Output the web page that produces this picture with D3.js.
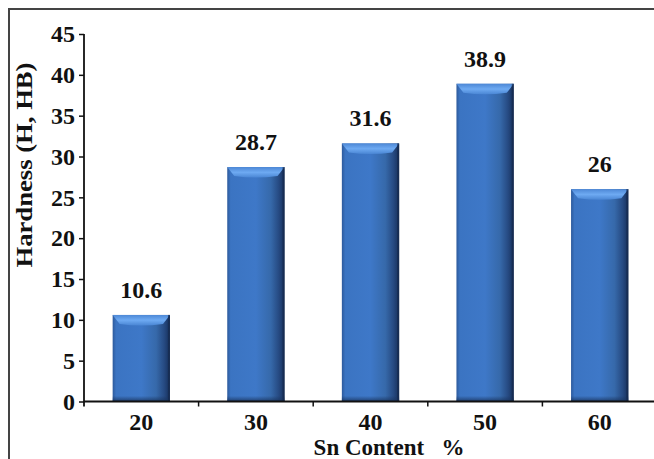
<!DOCTYPE html>
<html>
<head>
<meta charset="utf-8">
<script src="https://cdn.jsdelivr.net/npm/d3@7/dist/d3.min.js"></script>
<style>
  html, body { margin: 0; padding: 0; background: #fff; }
  svg { display: block; }
  svg text { font-family: "Liberation Serif", serif !important; font-weight: bold; fill: #111; }
</style>
</head>
<body>
<svg id="chart" width="654" height="459"></svg>
<script>
const categories = ["20", "30", "40", "50", "60"];
const hardness = [10.6, 28.7, 31.6, 38.9, 26];
const valueLabels = ["10.6", "28.7", "31.6", "38.9", "26"];
const yTicks = [0, 5, 10, 15, 20, 25, 30, 35, 40, 45];
const xTitle = "Sn Content   %";
const yTitle = "Hardness (H, HB)";

(function () {
const svg = d3.select("#chart");
const W = 654, H = 459;
const pLeft = 84, pRight = 657, pTop = 34, pBottom = 401.5;

const x = d3.scaleBand().domain(categories).range([pLeft, pRight]).paddingInner(0.5).paddingOuter(0.25);
const y = d3.scaleLinear().domain([0, 45]).range([pBottom, pTop]);

// frame
svg.append("rect").attr("x", 9).attr("y", 9).attr("width", W + 10).attr("height", H + 10)
  .attr("fill", "#fff").attr("stroke", "#444").attr("stroke-width", 2);

// gradients
const defs = svg.append("defs");
const gH = defs.append("linearGradient").attr("id", "gH").attr("x1", 0).attr("x2", 1).attr("y1", 0).attr("y2", 0);
[[0, "#2d5a9c"], [0.06, "#3b74c2"], [0.5, "#3e78c8"], [0.76, "#3669aa"], [0.9, "#264a82"], [1, "#17305a"]]
  .forEach(([o, c]) => gH.append("stop").attr("offset", o).attr("stop-color", c));
const gB = defs.append("linearGradient").attr("id", "gB").attr("x1", 0).attr("x2", 0).attr("y1", 0).attr("y2", 1);
[[0, "#1a3560", 0], [0.6, "#1a3560", 0], [1, "#1a3560", 0.85]]
  .forEach(([o, c, a]) => gB.append("stop").attr("offset", o).attr("stop-color", c).attr("stop-opacity", a));
const gT = defs.append("linearGradient").attr("id", "gT").attr("x1", 0).attr("x2", 0).attr("y1", 0).attr("y2", 1);
[[0, "#4d88d6"], [0.5, "#6eaaf2"], [1, "#4a86d4"]]
  .forEach(([o, c]) => gT.append("stop").attr("offset", o).attr("stop-color", c));

const bars = svg.append("g").selectAll("g").data(categories).join("g");
bars.append("rect")
  .attr("x", d => x(d)).attr("width", x.bandwidth())
  .attr("y", (d, i) => y(hardness[i])).attr("height", (d, i) => pBottom - y(hardness[i]))
  .attr("fill", "url(#gH)");
bars.append("rect")
  .attr("x", d => x(d)).attr("width", x.bandwidth())
  .attr("y", (d, i) => Math.max(y(hardness[i]), pBottom - 14)).attr("height", (d, i) => Math.min(14, pBottom - y(hardness[i])))
  .attr("fill", "url(#gB)");
bars.append("path")
  .attr("d", (d, i) => {
    const x0 = x(d), x1 = x(d) + x.bandwidth(), t = y(hardness[i]);
    return `M${x0},${t} L${x1},${t} L${x1 - 7},${t + 9} Q${(x0 + x1) / 2},${t + 12} ${x0 + 7},${t + 9} Z`;
  })
  .attr("fill", "url(#gT)");
bars.append("rect")
  .attr("x", d => x(d) + x.bandwidth() - 2).attr("width", 2)
  .attr("y", (d, i) => y(hardness[i])).attr("height", (d, i) => pBottom - y(hardness[i]))
  .attr("fill", "#152a4d").attr("opacity", 0.7);

// value labels
svg.append("g").selectAll("text").data(categories).join("text")
  .attr("x", d => x(d) + x.bandwidth() / 2)
  .attr("y", (d, i) => y(hardness[i]) - 17)
  .attr("text-anchor", "middle").attr("font-size", 24)
  .text((d, i) => valueLabels[i]);

// y axis
const yAxis = svg.append("g").attr("transform", `translate(${pLeft},0)`)
  .call(d3.axisLeft(y).tickValues(yTicks).tickSize(5).tickPadding(4).tickFormat(d3.format("d")));
yAxis.select(".domain").remove();
yAxis.selectAll(".tick line").attr("stroke", "#111").attr("stroke-width", 1.5);
yAxis.selectAll(".tick text").attr("font-size", 24).attr("fill", "#111");
svg.append("line").attr("x1", pLeft).attr("x2", pLeft).attr("y1", pTop).attr("y2", pBottom + 5)
  .attr("stroke", "#111").attr("stroke-width", 1.8);

// x axis
const xAxis = svg.append("g").attr("transform", `translate(0,${pBottom})`)
  .call(d3.axisBottom(x).tickSize(0).tickPadding(11));
xAxis.select(".domain").remove();
xAxis.selectAll(".tick text").attr("font-size", 24).attr("fill", "#111");
svg.append("line").attr("x1", pLeft).attr("x2", W).attr("y1", pBottom).attr("y2", pBottom)
  .attr("stroke", "#111").attr("stroke-width", 1.8);
const step = x.step();
svg.append("g").selectAll("line").data(categories.slice(0, -1)).join("line")
  .attr("x1", d => x(d) + x.bandwidth() + (step - x.bandwidth()) / 2)
  .attr("x2", d => x(d) + x.bandwidth() + (step - x.bandwidth()) / 2)
  .attr("y1", pBottom).attr("y2", pBottom + 5)
  .attr("stroke", "#111").attr("stroke-width", 1.5);

// titles
svg.append("text").attr("x", 389).attr("y", 455).attr("text-anchor", "middle")
  .attr("font-size", 23).style("white-space", "pre").text(xTitle);
svg.append("text").attr("transform", "translate(32,165) rotate(-90)").attr("text-anchor", "middle")
  .attr("font-size", 23).attr("textLength", 205).attr("lengthAdjust", "spacingAndGlyphs").text(yTitle);
})();
</script>
</body>
</html>
